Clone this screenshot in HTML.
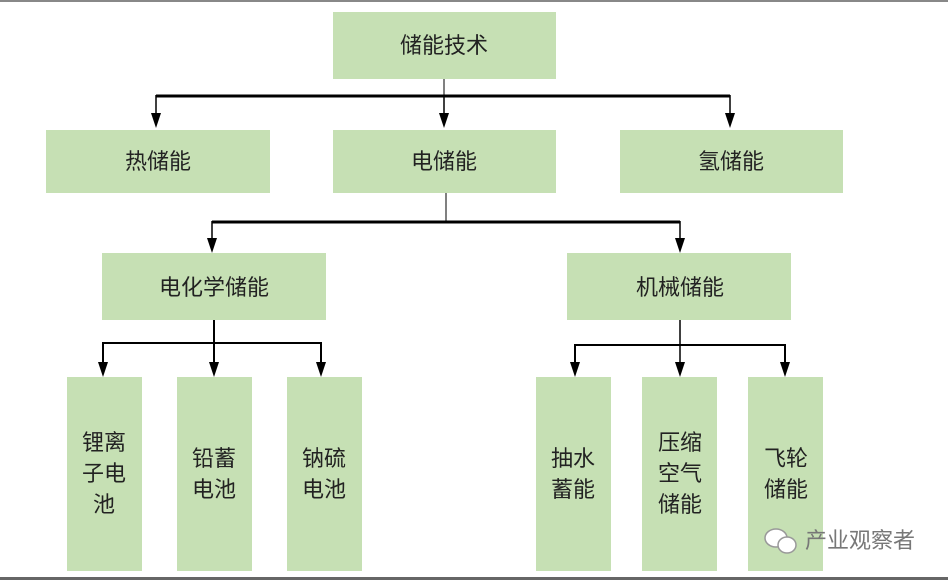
<!DOCTYPE html>
<html><head><meta charset="utf-8"><style>
body{margin:0;background:#fff;width:948px;height:582px;overflow:hidden}
svg text{font-family:"Liberation Sans","Noto Sans CJK SC",sans-serif;font-size:22px;fill:#222;text-anchor:middle}
</style></head><body>
<svg width="948" height="582" xmlns="http://www.w3.org/2000/svg">
<rect x="0" y="0" width="948" height="2" fill="#888"/>
<rect x="0" y="577" width="948" height="3" fill="#666"/>
<g fill="#c6e0b4">
<rect x="333" y="12" width="223" height="67"/>
<rect x="46" y="130" width="224" height="63"/>
<rect x="333" y="130" width="223" height="63"/>
<rect x="620" y="130" width="223" height="63"/>
<rect x="102" y="253" width="224" height="67"/>
<rect x="567" y="253" width="224" height="67"/>
<rect x="67" y="377" width="75" height="194"/>
<rect x="177" y="377" width="75" height="194"/>
<rect x="287" y="377" width="75" height="194"/>
<rect x="536" y="377" width="75" height="194"/>
<rect x="642" y="377" width="75" height="194"/>
<rect x="748" y="377" width="75" height="194"/>
</g>
<g stroke="#000" fill="none">
<line x1="444" y1="79" x2="444" y2="96" stroke-width="1"/>
<line x1="156" y1="96" x2="730" y2="96" stroke-width="3"/>
<line x1="156" y1="95" x2="156" y2="115" stroke-width="1.5"/>
<line x1="444" y1="95" x2="444" y2="115" stroke-width="1.5"/>
<line x1="730" y1="95" x2="730" y2="115" stroke-width="1.5"/>
<line x1="446" y1="193" x2="446" y2="222" stroke-width="1"/>
<line x1="212" y1="222" x2="680" y2="222" stroke-width="3"/>
<line x1="212" y1="221" x2="212" y2="240" stroke-width="1.5"/>
<line x1="680" y1="221" x2="680" y2="240" stroke-width="1.5"/>
<line x1="214" y1="320" x2="214" y2="364" stroke-width="2"/>
<polyline points="103,364 103,343 321,343 321,364" stroke-width="2"/>
<line x1="680" y1="320" x2="680" y2="364" stroke-width="1.5"/>
<polyline points="575,364 575,345 785,345 785,364" stroke-width="2"/>
</g>
<g fill="#000">
<path d="M151,113 L161,113 L156,128 Z"/>
<path d="M439,113 L449,113 L444,128 Z"/>
<path d="M725,113 L735,113 L730,128 Z"/>
<path d="M207,238 L217,238 L212,253 Z"/>
<path d="M675,238 L685,238 L680,253 Z"/>
<path d="M98,362 L108,362 L103,377 Z"/>
<path d="M209,362 L219,362 L214,377 Z"/>
<path d="M316,362 L326,362 L321,377 Z"/>
<path d="M570,362 L580,362 L575,377 Z"/>
<path d="M675,362 L685,362 L680,377 Z"/>
<path d="M780,362 L790,362 L785,377 Z"/>
</g>
<text x="444" y="53">储能技术</text>
<text x="158" y="169">热储能</text>
<text x="444" y="169">电储能</text>
<text x="731" y="169">氢储能</text>
<text x="214" y="295">电化学储能</text>
<text x="680" y="295">机械储能</text>
<text x="104" y="450">锂离</text><text x="104" y="481">子电</text><text x="104" y="512">池</text>
<text x="214" y="466">铅蓄</text><text x="214" y="497">电池</text>
<text x="324" y="466">钠硫</text><text x="324" y="497">电池</text>
<text x="573" y="466">抽水</text><text x="573" y="497">蓄能</text>
<text x="680" y="450">压缩</text><text x="680" y="481">空气</text><text x="680" y="512">储能</text>
<text x="786" y="466">飞轮</text><text x="786" y="497">储能</text>
<g fill="none" stroke="#999" stroke-width="1.5">
<ellipse cx="776" cy="538" rx="11" ry="9" fill="#fff"/>
<ellipse cx="787" cy="545" rx="9" ry="8" fill="#fff"/>
</g>
<text x="860" y="548" style="fill:#777;font-size:22px">产业观察者</text>
</svg>
</body></html>
